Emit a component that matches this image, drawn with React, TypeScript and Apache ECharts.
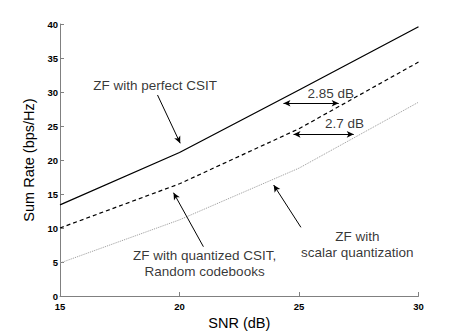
import React, { useEffect, useRef } from "react";
import * as echarts from "echarts";

const snr = [15, 20, 25, 30];
const perfectCSIT = [13.4, 21.1, 30.3, 39.6];
const quantizedCSIT = [10.0, 16.5, 24.6, 34.4];
const scalarQuant = [4.85, 11.2, 18.8, 28.5];

const xTicks = { min: 15, max: 30, interval: 5 };
const yTicks = { min: 0, max: 40, interval: 5 };

// annotation texts: [x, y, text]
const annotations: [number, number, string][] = [
  [18.98, 31.0, "ZF with perfect CSIT"],
  [26.33, 29.85, "2.85 dB"],
  [26.9, 25.44, "2.7 dB"],
  [21.05, 4.8, "ZF with quantized CSIT,\nRandom codebooks"],
  [27.44, 7.6, "ZF with\nscalar quantization"],
];

// arrows: from, to, double-headed?
const arrows: [[number, number], [number, number], boolean][] = [
  [[19.08, 29.56], [20.03, 22.46], false],
  [[24.35, 28.34], [26.66, 28.34], true],
  [[24.77, 23.78], [27.29, 23.78], true],
  [[21.0, 7.25], [19.75, 15.19], false],
  [[25.08, 10.1], [23.94, 16.32], false],
];

const FONT = "'Liberation Sans', Arial, Helvetica, sans-serif";

export default function App() {
  const ref = useRef<HTMLDivElement>(null);
  useEffect(() => {
    if (!ref.current) return;
    const chart = echarts.init(ref.current, null, { renderer: "svg" });
    const axisCommon = {
      axisLine: { show: true, lineStyle: { color: "#808080", width: 1 } },
      axisTick: { show: true, inside: true, length: 4, lineStyle: { color: "#808080" } },
      splitLine: { show: false },
      nameTextStyle: { fontFamily: FONT, fontSize: 14.5, color: "#000" },
    };
    chart.setOption({
      animation: false,
      backgroundColor: "#fff",
      grid: { left: 60, top: 24, right: 44.5, bottom: 40 },
      xAxis: {
        type: "value",
        ...xTicks,
        ...axisCommon,
        name: "SNR (dB)",
        nameLocation: "middle",
        nameGap: 12,
        axisLabel: { fontFamily: FONT, fontSize: 9.5, fontWeight: "bold", color: "#000", margin: 5 },
      },
      yAxis: {
        type: "value",
        ...yTicks,
        ...axisCommon,
        name: "Sum Rate (bps/Hz)",
        nameLocation: "middle",
        nameGap: 15,
        axisLabel: { fontFamily: FONT, fontSize: 9.5, fontWeight: "bold", color: "#000", margin: 2 },
      },
      series: [
        {
          type: "line",
          data: snr.map((x, i) => [x, perfectCSIT[i]]),
          showSymbol: false,
          lineStyle: { color: "#000", width: 1.3, type: "solid" },
        },
        {
          type: "line",
          data: snr.map((x, i) => [x, quantizedCSIT[i]]),
          showSymbol: false,
          lineStyle: { color: "#000", width: 1.2, type: [4, 3] },
        },
        {
          type: "line",
          data: snr.map((x, i) => [x, scalarQuant[i]]),
          showSymbol: false,
          lineStyle: { color: "#999", width: 1, type: [1, 1] },
        },
        {
          type: "line",
          data: [],
          markLine: {
            silent: true,
            animation: false,
            symbolSize: [5, 7],
            label: { show: false },
            lineStyle: { color: "#000", width: 1, type: "solid" },
            data: arrows.map(([a, b, dbl]) => [
              { coord: a, symbol: dbl ? "arrow" : "none" },
              { coord: b, symbol: "arrow" },
            ]),
          },
        },
        {
          type: "scatter",
          symbolSize: 0,
          data: annotations.map(([x, y, t]) => ({ value: [x, y], name: t })),
          label: {
            show: true,
            position: "inside",
            formatter: (p: any) => p.name,
            fontFamily: FONT,
            fontSize: 13.5,
            color: "#000",
            lineHeight: 15.5,
            align: "center",
          },
        },
      ],
    });
    return () => chart.dispose();
  }, []);
  return <div ref={ref} style={{ width: 463, height: 336, position: "absolute", left: 0, top: 0 }} />;
}
